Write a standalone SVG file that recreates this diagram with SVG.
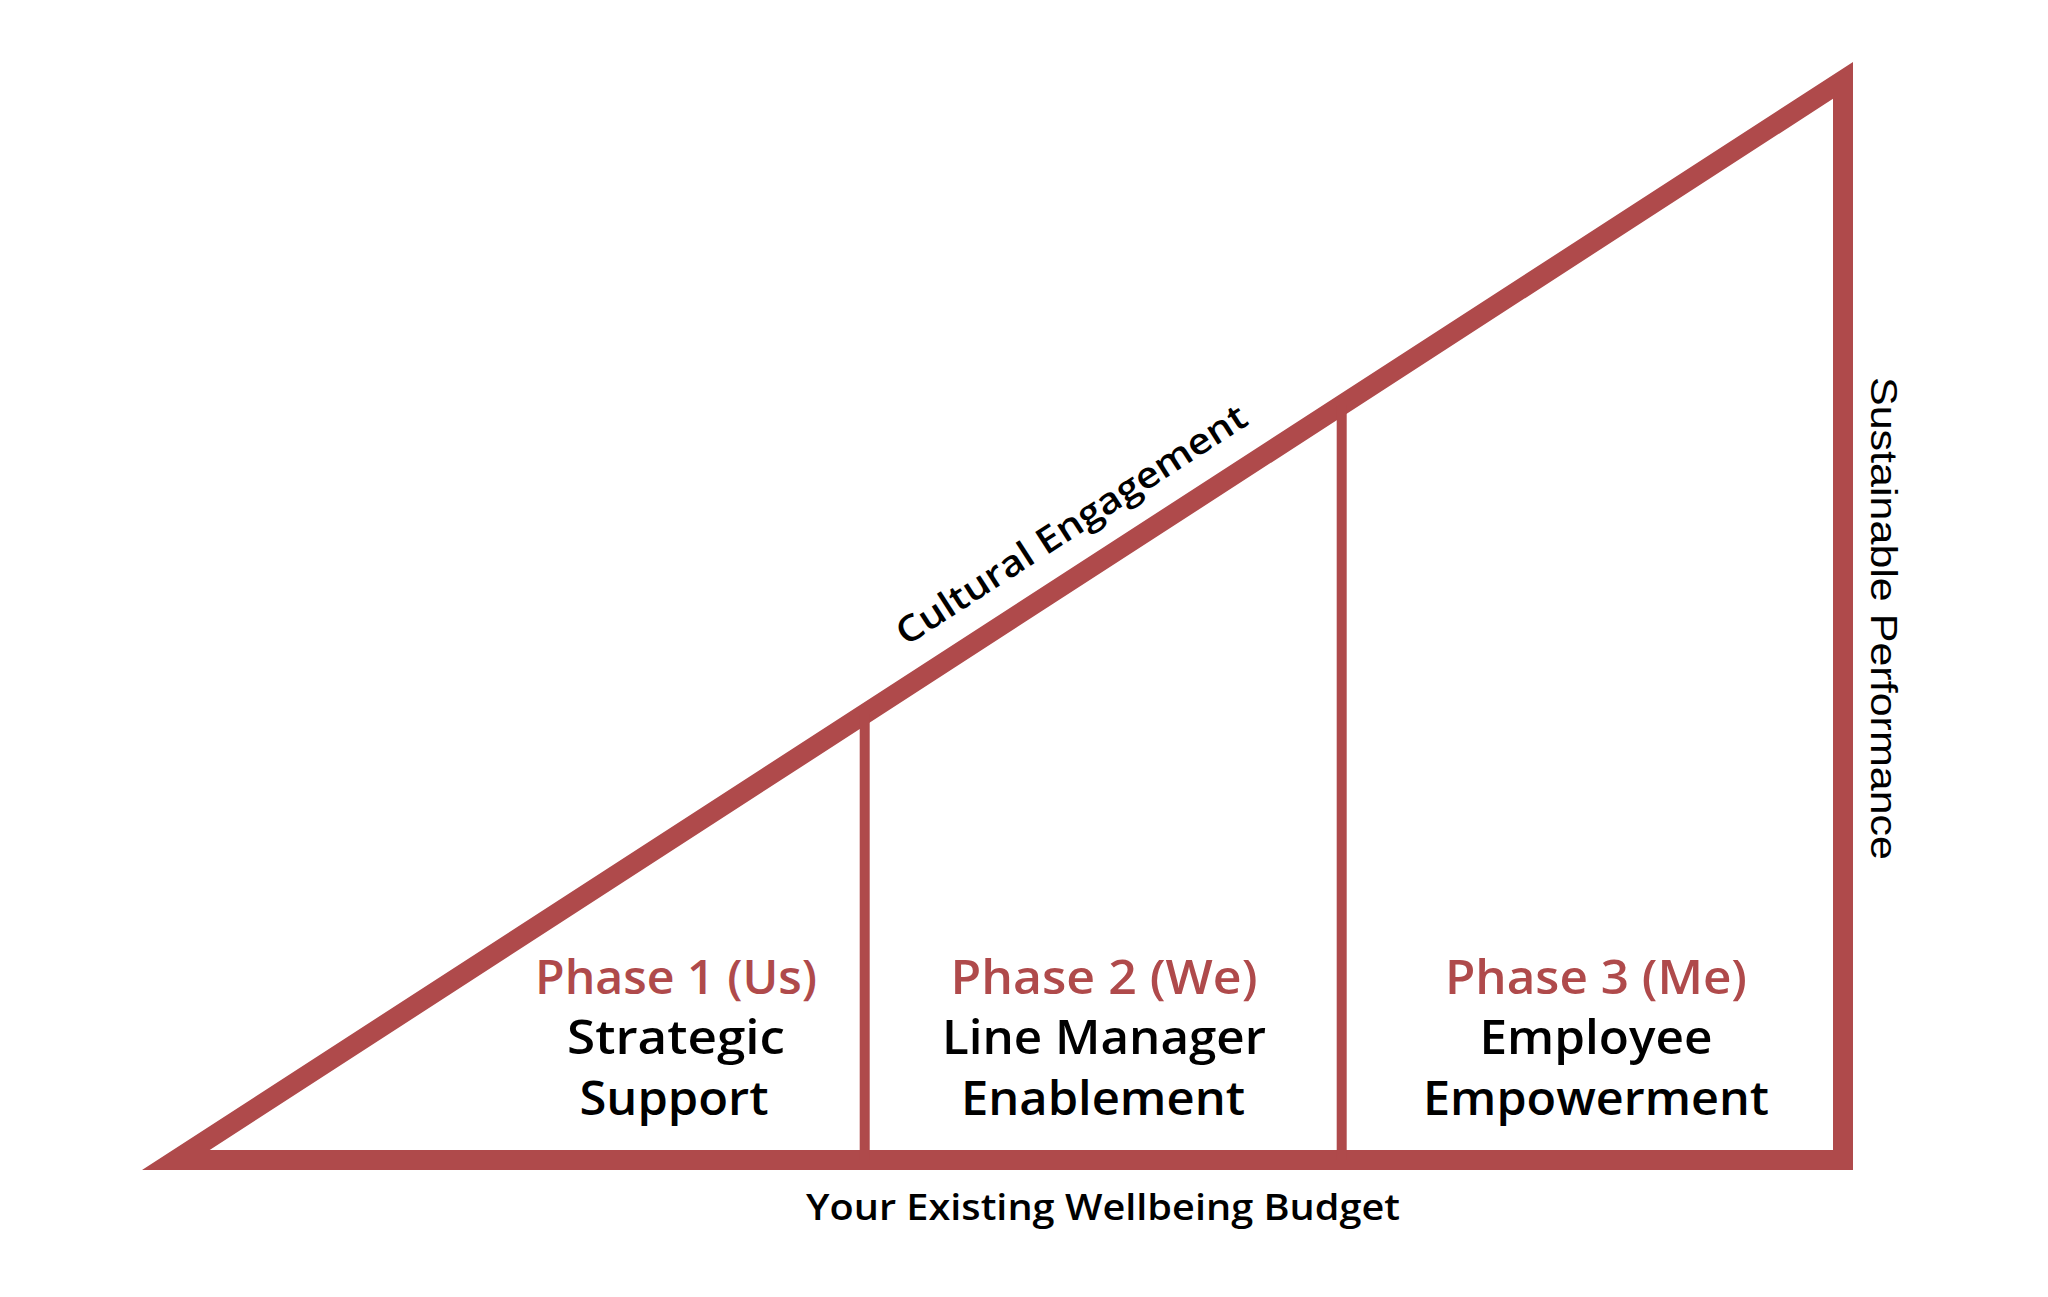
<svg xmlns="http://www.w3.org/2000/svg" width="2048" height="1297" viewBox="0 0 2048 1297">
  <style>
    .frame { fill: #AF4A4B; fill-rule: evenodd; }
    .div { stroke: #AF4A4B; stroke-width: 10; fill: none; }
    .ph { font-family: "Open Sans", "Noto Sans", sans-serif; font-weight: 600; font-size: 47px; fill: #AF4A4B; text-anchor: middle; }
    .tt { font-family: "Open Sans", "Noto Sans", sans-serif; font-weight: 600; font-size: 47px; fill: #000000; text-anchor: middle; }
    .lab { font-family: "Open Sans", "Noto Sans", sans-serif; font-weight: 600; font-size: 36px; fill: #000000; text-anchor: middle; }
    .side { font-family: "Liberation Sans", Arial, sans-serif; font-size: 37px; fill: #000000; text-anchor: middle; }
  </style>
  <rect x="0" y="0" width="2048" height="1297" fill="#FFFFFF"/>
  <g id="triangle">
    <path class="frame" d="M142,1170 L1853,1170 L1853,62 Z M209.7,1150 L1833,98.8 L1833,1150 Z"/>
  </g>
  <g id="connectors">
    <line class="div" x1="864.7" y1="714" x2="864.7" y2="1160"/>
    <line class="div" x1="1341.7" y1="405" x2="1341.7" y2="1160"/>
  </g>
  <g id="phase1">
    <text class="ph" x="676" y="994" textLength="282" lengthAdjust="spacingAndGlyphs">Phase 1 (Us)</text>
    <text class="tt" x="676" y="1054" textLength="218" lengthAdjust="spacingAndGlyphs">Strategic</text>
    <text class="tt" x="674" y="1115" textLength="189" lengthAdjust="spacingAndGlyphs">Support</text>
  </g>
  <g id="phase2">
    <text class="ph" x="1104" y="994" textLength="307" lengthAdjust="spacingAndGlyphs">Phase 2 (We)</text>
    <text class="tt" x="1104" y="1054" textLength="324" lengthAdjust="spacingAndGlyphs">Line Manager</text>
    <text class="tt" x="1103" y="1115" textLength="284" lengthAdjust="spacingAndGlyphs">Enablement</text>
  </g>
  <g id="phase3">
    <text class="ph" x="1596" y="994" textLength="302" lengthAdjust="spacingAndGlyphs">Phase 3 (Me)</text>
    <text class="tt" x="1596" y="1054" textLength="233" lengthAdjust="spacingAndGlyphs">Employee</text>
    <text class="tt" x="1596" y="1115" textLength="346" lengthAdjust="spacingAndGlyphs">Empowerment</text>
  </g>
  <g id="label-budget">
    <text class="lab" x="1103" y="1220" textLength="594" lengthAdjust="spacingAndGlyphs">Your Existing Wellbeing Budget</text>
  </g>
  <g id="label-cultural">
    <text class="lab" transform="translate(1078,535) rotate(-32.92)" x="0" y="0" textLength="410" lengthAdjust="spacingAndGlyphs">Cultural Engagement</text>
  </g>
  <g id="label-sustainable">
    <text class="side" transform="translate(1871,618.5) rotate(90)" x="0" y="0" textLength="483" lengthAdjust="spacingAndGlyphs">Sustainable Performance</text>
  </g>
</svg>
